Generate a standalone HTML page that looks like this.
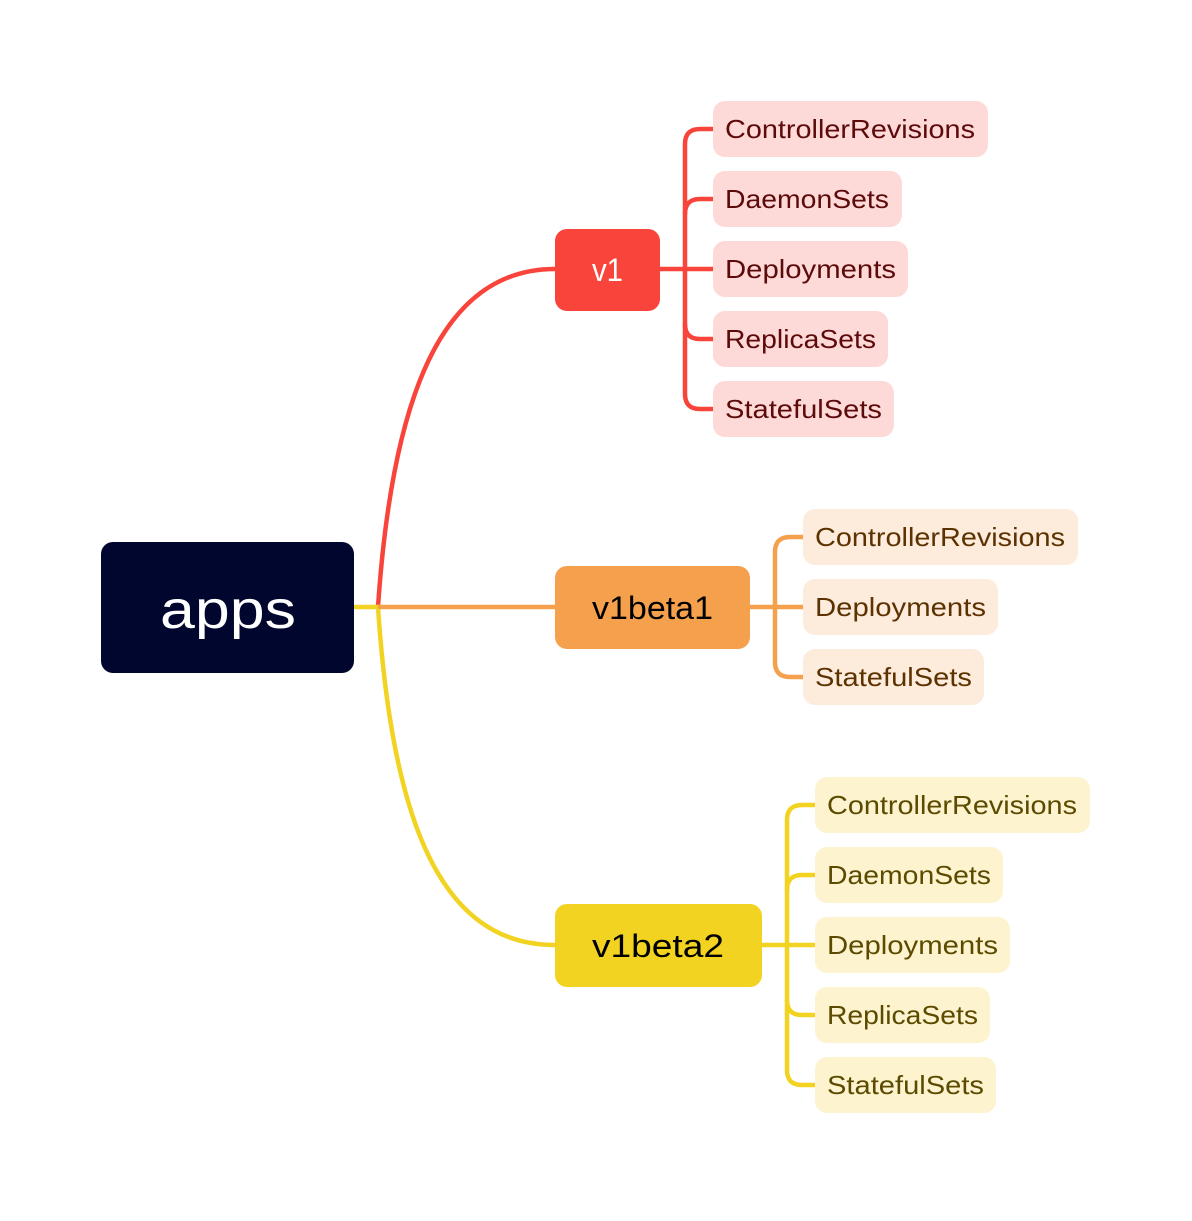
<!DOCTYPE html>
<html><head><style>
html,body{margin:0;padding:0;background:#fff;}
text{font-family:"Liberation Sans",sans-serif;}
</style></head><body>
<svg width="1192" height="1216" viewBox="0 0 1192 1216" xmlns="http://www.w3.org/2000/svg">
<g fill="none" stroke-width="4.5" stroke-linecap="round">
<path d="M378,607 C392,400 440,269 555,269" stroke="#F9443C"/>
<path d="M378,607 C392,820 440,945 555,945" stroke="#F2D321"/>
<path d="M355,607 L380,607" stroke="#F2D321"/>
<path d="M380,607 L555,607" stroke="#F5A04C"/>
<g stroke="#F9443C">
<path d="M660,269 L713,269"/>
<path d="M713,129 L700,129 Q685,129 685,144 L685,394 Q685,409 700,409 L713,409"/>
<path d="M713,199 L700,199 Q685,199 685,214"/>
<path d="M713,339 L700,339 Q685,339 685,324"/>
</g>
<g stroke="#F5A04C">
<path d="M750,607 L803,607"/>
<path d="M803,537 L790,537 Q775,537 775,552 L775,662 Q775,677 790,677 L803,677"/>
</g>
<g stroke="#F2D321">
<path d="M762,945 L815,945"/>
<path d="M815,805 L802,805 Q787,805 787,820 L787,1070 Q787,1085 802,1085 L815,1085"/>
<path d="M815,875 L802,875 Q787,875 787,890"/>
<path d="M815,1015 L802,1015 Q787,1015 787,1000"/>
</g>
</g>
<rect x="101" y="542" width="253" height="131" rx="12" fill="#00062E"/>
<text x="160" y="628" font-size="54" fill="#fff" textLength="136" lengthAdjust="spacingAndGlyphs">apps</text>
<rect x="555" y="229" width="105" height="82" rx="12" fill="#F9443C"/>
<text x="592" y="281" font-size="32" fill="#fff" textLength="31" lengthAdjust="spacingAndGlyphs">v1</text>
<rect x="555" y="566" width="195" height="83" rx="12" fill="#F5A04C"/>
<text x="592" y="619" font-size="32" fill="#000" textLength="121" lengthAdjust="spacingAndGlyphs">v1beta1</text>
<rect x="555" y="904" width="207" height="83" rx="12" fill="#F2D321"/>
<text x="592" y="957" font-size="32" fill="#000" textLength="132" lengthAdjust="spacingAndGlyphs">v1beta2</text>
<g font-size="26" lengthAdjust="spacingAndGlyphs">
<g fill="#FDD9D8">
<rect x="713" y="101" width="275" height="56" rx="12"/>
<rect x="713" y="171" width="189" height="56" rx="12"/>
<rect x="713" y="241" width="195" height="56" rx="12"/>
<rect x="713" y="311" width="175" height="56" rx="12"/>
<rect x="713" y="381" width="181" height="56" rx="12"/>
</g>
<g fill="#5C0A0A">
<text x="725" y="138" textLength="250" lengthAdjust="spacingAndGlyphs">ControllerRevisions</text>
<text x="725" y="208" textLength="164" lengthAdjust="spacingAndGlyphs">DaemonSets</text>
<text x="725" y="278" textLength="171" lengthAdjust="spacingAndGlyphs">Deployments</text>
<text x="725" y="348" textLength="151" lengthAdjust="spacingAndGlyphs">ReplicaSets</text>
<text x="725" y="418" textLength="157" lengthAdjust="spacingAndGlyphs">StatefulSets</text>
</g>
<g fill="#FDEBDC">
<rect x="803" y="509" width="275" height="56" rx="12"/>
<rect x="803" y="579" width="195" height="56" rx="12"/>
<rect x="803" y="649" width="181" height="56" rx="12"/>
</g>
<g fill="#5C3200">
<text x="815" y="546" textLength="250" lengthAdjust="spacingAndGlyphs">ControllerRevisions</text>
<text x="815" y="616" textLength="171" lengthAdjust="spacingAndGlyphs">Deployments</text>
<text x="815" y="686" textLength="157" lengthAdjust="spacingAndGlyphs">StatefulSets</text>
</g>
<g fill="#FDF4CF">
<rect x="815" y="777" width="275" height="56" rx="12"/>
<rect x="815" y="847" width="188" height="56" rx="12"/>
<rect x="815" y="917" width="195" height="56" rx="12"/>
<rect x="815" y="987" width="175" height="56" rx="12"/>
<rect x="815" y="1057" width="181" height="56" rx="12"/>
</g>
<g fill="#5C4A00">
<text x="827" y="814" textLength="250" lengthAdjust="spacingAndGlyphs">ControllerRevisions</text>
<text x="827" y="884" textLength="164" lengthAdjust="spacingAndGlyphs">DaemonSets</text>
<text x="827" y="954" textLength="171" lengthAdjust="spacingAndGlyphs">Deployments</text>
<text x="827" y="1024" textLength="151" lengthAdjust="spacingAndGlyphs">ReplicaSets</text>
<text x="827" y="1094" textLength="157" lengthAdjust="spacingAndGlyphs">StatefulSets</text>
</g>
</g>
</svg>
</body></html>
